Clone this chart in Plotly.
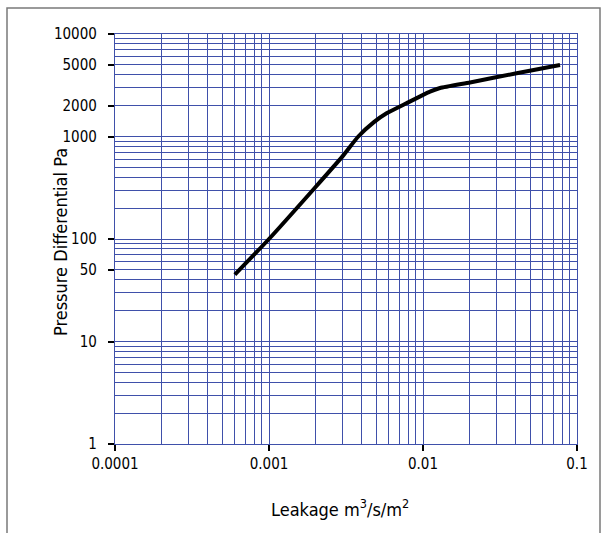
import plotly.graph_objects as go

# Data
leakage = [0.0006, 0.001, 0.002, 0.003, 0.0038, 0.0048, 0.0058, 0.0078, 0.0111, 0.0129, 0.0202, 0.0405, 0.0776]
pressure = [45, 100, 320, 640, 1000, 1380, 1683, 2108, 2737, 2972, 3370, 4137, 4990]

x_tick_vals = [0.0001, 0.001, 0.01, 0.1]
x_tick_text = ["0.0001", "0.001", "0.01", "0.1"]
y_tick_vals = [1, 10, 50, 100, 1000, 2000, 5000, 10000]
y_tick_text = ["1", "10", "50", "100", "1000", "2000", "5000", "10000"]

x_grid = [m * 10.0 ** e for e in range(-4, -1) for m in range(1, 10)] + [0.1]
y_grid = [m * 10.0 ** e for e in range(0, 4) for m in range(1, 10)] + [10000]

x_title = "Leakage m<sup>3</sup>/s/m<sup>2</sup>"
y_title = "Pressure Differential Pa"

GRID = "#3f50aa"
FONT = "DejaVu Sans Condensed, Liberation Sans Narrow, Liberation Sans, sans-serif"

fig = go.Figure()
fig.add_trace(go.Scatter(
    x=leakage, y=pressure, mode="lines",
    line=dict(color="black", width=4, shape="spline", smoothing=0.5),
    showlegend=False, hoverinfo="skip",
))

fig.update_xaxes(
    type="log", range=[-4, -1],
    tickmode="array", tickvals=x_tick_vals, ticktext=x_tick_text,
    ticks="outside", ticklen=6, tickwidth=2, tickcolor="black",
    showgrid=True, gridcolor=GRID, gridwidth=1.3,
    minor=dict(tickmode="array", tickvals=x_grid, showgrid=True, gridcolor=GRID, gridwidth=1.3, ticks=""),
    showline=True, linecolor=GRID, linewidth=1.3, mirror=True,
    zeroline=False,
    tickfont=dict(family=FONT, size=15, color="black"),
)
fig.update_yaxes(
    type="log", range=[0, 4],
    tickmode="array", tickvals=y_tick_vals, ticktext=y_tick_text,
    ticks="outside", ticklen=6, tickwidth=2, tickcolor="black",
    ticklabelstandoff=8,
    showgrid=True, gridcolor=GRID, gridwidth=1.3,
    minor=dict(tickmode="array", tickvals=y_grid, showgrid=True, gridcolor=GRID, gridwidth=1.3, ticks=""),
    showline=True, linecolor=GRID, linewidth=1.3, mirror=True,
    zeroline=False,
    tickfont=dict(family=FONT, size=15, color="black"),
)

L, R, T, B = 115, 29, 34, 89
W, H = 606, 533
pw, ph = W - L - R, H - T - B

def px_to_paper_x(px):
    return (px - L) / pw

def px_to_paper_y(py):
    return (H - B - py) / ph

fig.add_shape(type="rect", xref="paper", yref="paper",
              x0=px_to_paper_x(7), x1=px_to_paper_x(600),
              y0=px_to_paper_y(560), y1=px_to_paper_y(8),
              line=dict(color="#7a7a7a", width=1.5), fillcolor="rgba(0,0,0,0)", layer="below")

fig.add_annotation(text=y_title, xref="paper", yref="paper",
                   x=px_to_paper_x(60), y=px_to_paper_y(242), textangle=-90,
                   showarrow=False, xanchor="center", yanchor="middle",
                   font=dict(family=FONT, size=18, color="black"))
fig.add_annotation(text=x_title, xref="paper", yref="paper",
                   x=px_to_paper_x(340), y=px_to_paper_y(508),
                   showarrow=False, xanchor="center", yanchor="middle",
                   font=dict(family=FONT, size=18, color="black"))

fig.update_layout(
    width=W, height=H,
    margin=dict(l=L, r=R, t=T, b=B, autoexpand=False),
    paper_bgcolor="white", plot_bgcolor="white",
    font=dict(family=FONT, color="black"),
)

fig.write_html("out.html", config={"displayModeBar": False},
               post_script="document.body.style.margin='0';document.body.style.overflow='hidden';")
